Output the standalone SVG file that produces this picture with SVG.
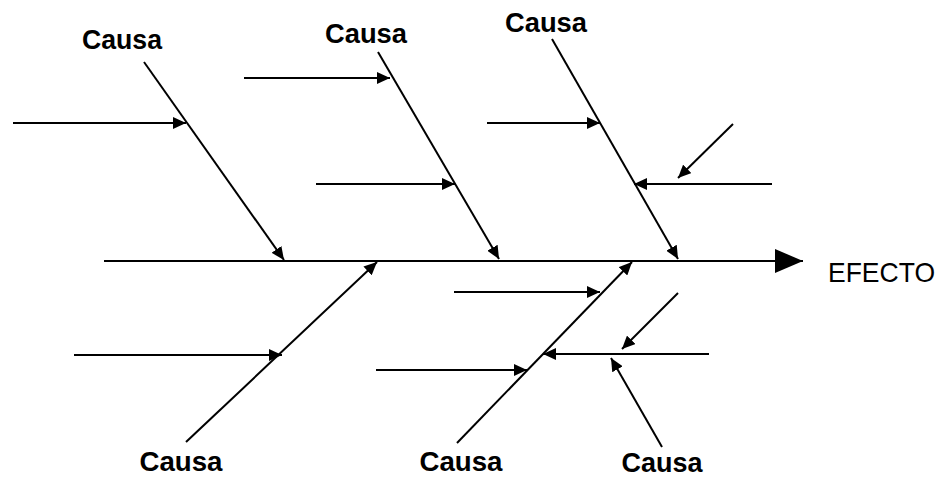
<svg xmlns="http://www.w3.org/2000/svg" width="940" height="478" viewBox="0 0 940 478">
<style>
.ln{stroke:#000;stroke-width:2;fill:none}
.ar{marker-end:url(#ah)}
.lbl{font-family:"Liberation Sans",Arial,sans-serif;font-size:28px;font-weight:bold;fill:#000;text-anchor:middle}
.lbb{font-size:27px}
.eff{font-family:"Liberation Sans",Arial,sans-serif;font-size:28px;fill:#000}
</style>
<defs>
<marker id="ah" markerUnits="userSpaceOnUse" markerWidth="14" markerHeight="12" refX="13" refY="6" orient="auto">
<path d="M0,0 L13,6 L0,12 z" fill="#000"/>
</marker>
<marker id="big" markerUnits="userSpaceOnUse" markerWidth="30" markerHeight="24" refX="28" refY="12" orient="auto">
<path d="M0,0 L28,12 L0,24 z" fill="#000"/>
</marker>
</defs>
<g id="connectors">
<line id="spine" class="ln" x1="104" y1="261" x2="803" y2="261" marker-end="url(#big)"/>
<line class="ln ar" x1="144" y1="62" x2="284" y2="260"/>
<line class="ln ar" x1="13" y1="123" x2="186" y2="123"/>
<line class="ln ar" x1="378" y1="52" x2="499" y2="259"/>
<line class="ln ar" x1="244" y1="78" x2="390" y2="78"/>
<line class="ln ar" x1="316" y1="184" x2="455" y2="184"/>
<line class="ln ar" x1="552" y1="39" x2="678" y2="259"/>
<line class="ln ar" x1="487" y1="123" x2="600" y2="123"/>
<line class="ln ar" x1="772" y1="184" x2="634" y2="184"/>
<line class="ln ar" x1="733" y1="124" x2="678" y2="178"/>
<line class="ln ar" x1="186" y1="442" x2="377" y2="262"/>
<line class="ln ar" x1="74" y1="355" x2="282" y2="355"/>
<line class="ln ar" x1="457" y1="443" x2="632" y2="262"/>
<line class="ln ar" x1="454" y1="292" x2="600" y2="292"/>
<line class="ln ar" x1="376" y1="370" x2="527" y2="370"/>
<line class="ln ar" x1="709" y1="354" x2="543" y2="354"/>
<line class="ln ar" x1="678" y1="293" x2="622" y2="349"/>
<line class="ln ar" x1="662" y1="447" x2="611" y2="358"/>
</g>
<g id="causa1"><text class="lbl" x="122" y="49" textLength="80" lengthAdjust="spacingAndGlyphs">Causa</text></g>
<g id="causa2"><text class="lbl" x="366" y="43" textLength="82" lengthAdjust="spacingAndGlyphs">Causa</text></g>
<g id="causa3"><text class="lbl" x="546" y="32" textLength="82" lengthAdjust="spacingAndGlyphs">Causa</text></g>
<g id="causa4"><text class="lbl lbb" x="181" y="471" textLength="83" lengthAdjust="spacingAndGlyphs">Causa</text></g>
<g id="causa5"><text class="lbl lbb" x="461" y="471" textLength="83" lengthAdjust="spacingAndGlyphs">Causa</text></g>
<g id="causa6"><text class="lbl lbb" x="662" y="472" textLength="81" lengthAdjust="spacingAndGlyphs">Causa</text></g>
<g id="efecto"><text class="eff" x="828" y="282" textLength="107" lengthAdjust="spacingAndGlyphs">EFECTO</text></g>
</svg>
